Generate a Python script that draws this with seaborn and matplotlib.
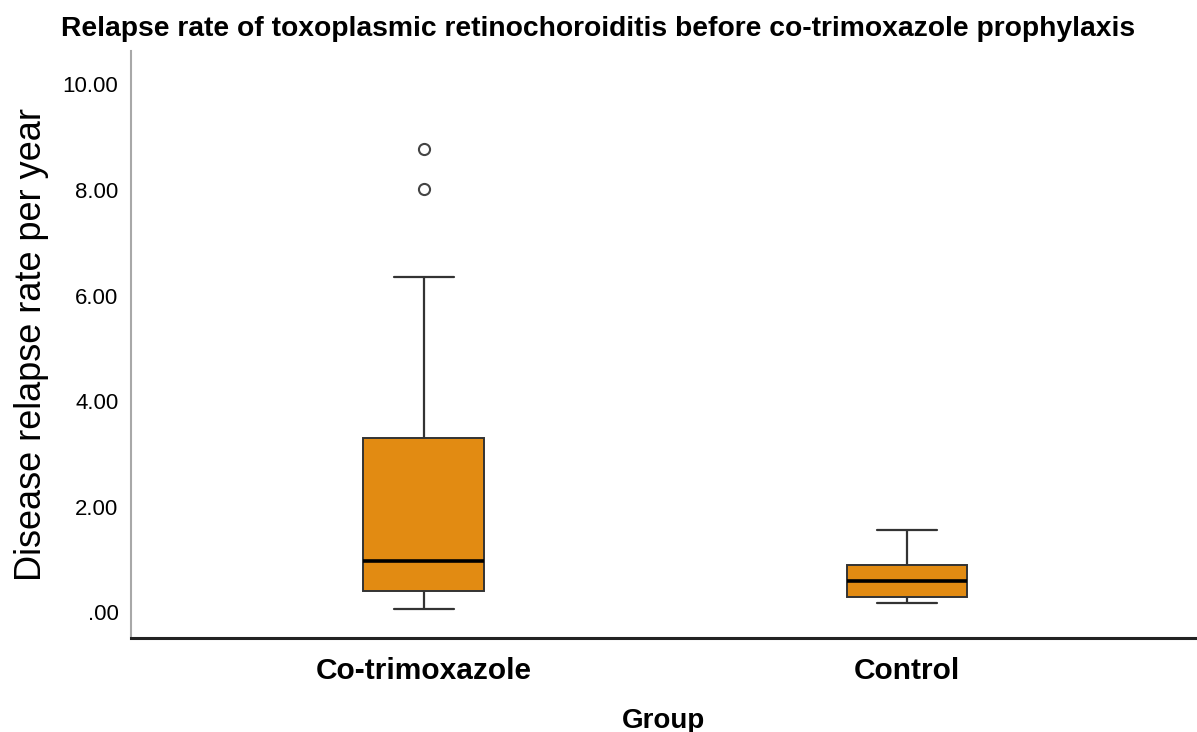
import matplotlib
matplotlib.use("Agg")
import matplotlib.pyplot as plt
import seaborn as sns
import pandas as pd

# relapse rates per patient (values chosen to reproduce the box stats)
cotrim_rates = [0.06, 0.20, 0.33, 0.40, 0.50, 0.75, 0.97, 1.50, 2.40, 3.30, 6.36, 8.01, 8.77]
control_rates = [0.17, 0.22, 0.28, 0.45, 0.59, 0.70, 0.89, 1.20, 1.55]
groups = ["Co-trimoxazole", "Control"]
y_ticks = [0, 2, 4, 6, 8, 10]
y_ticklabels = [".00", "2.00", "4.00", "6.00", "8.00", "10.00"]

df = pd.DataFrame({
    "Group": [groups[0]] * len(cotrim_rates) + [groups[1]] * len(control_rates),
    "rate": cotrim_rates + control_rates,
})

sns.set_style("white")
plt.rcParams["font.family"] = ["Liberation Sans", "DejaVu Sans"]
plt.rcParams["text.color"] = "black"
plt.rcParams["axes.labelcolor"] = "black"
plt.rcParams["xtick.color"] = "black"
plt.rcParams["ytick.color"] = "black"

fig = plt.figure(figsize=(11.97, 7.32), dpi=100)
ax = fig.add_axes([0.1094, 0.1284, 0.8906, 0.8016])

sns.boxplot(
    data=df, x="Group", y="rate", order=groups,
    color="#E28B12", saturation=1, width=0.25, ax=ax,
    linecolor="#333333", linewidth=1.4,
    medianprops=dict(color="black", linewidth=2.6),
    whiskerprops=dict(color="#333333", linewidth=1.6),
    capprops=dict(color="#333333", linewidth=1.6),
    flierprops=dict(marker="o", markersize=8, markerfacecolor="white",
                    markeredgecolor="#444444", markeredgewidth=1.5),
    capwidths=0.125,
)

ax.set_xlim(-0.606, 1.6)
ax.set_ylim(-0.49, 10.63)
ax.set_yticks(y_ticks)
ax.set_yticklabels(y_ticklabels, fontsize=16)
ax.tick_params(axis="y", length=0, pad=9)
ax.tick_params(axis="x", length=0, pad=14, labelsize=21.5)
for lbl in ax.get_xticklabels():
    lbl.set_fontweight("bold")

ax.set_ylabel("Disease relapse rate per year", fontsize=26, labelpad=10)
ax.set_xlabel("Group", fontsize=20, fontweight="bold", labelpad=16)

for side in ["top", "right"]:
    ax.spines[side].set_visible(False)
ax.spines["left"].set_color("#a8a8a8")
ax.spines["left"].set_linewidth(1.5)
ax.spines["bottom"].set_color("#222222")
ax.spines["bottom"].set_linewidth(2.2)

fig.suptitle("Relapse rate of toxoplasmic retinochoroiditis before co-trimoxazole prophylaxis",
             fontsize=20.3, fontweight="bold", y=0.978)

fig.savefig("out.png", dpi=100)
